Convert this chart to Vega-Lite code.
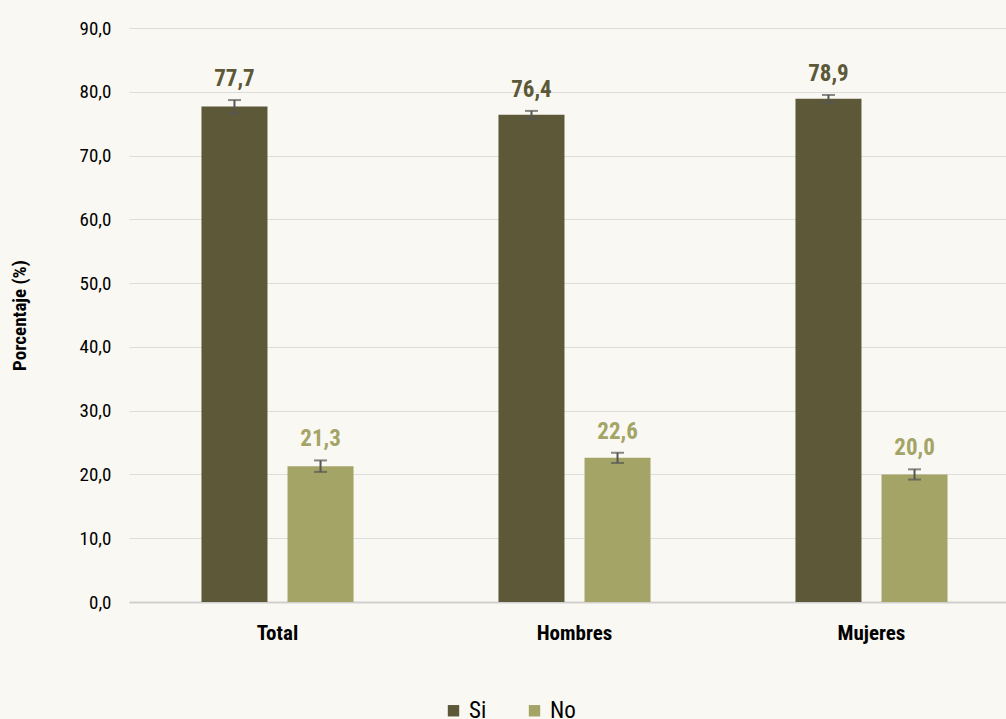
{
  "$schema": "https://vega.github.io/schema/vega-lite/v6.json",
  "autosize": "none",
  "width": 891,
  "height": 574,
  "padding": {"left": 129, "top": 28, "right": 0, "bottom": 117},
  "background": "#faf8f3",
  "data": {"values": [
    {"grupo": "Total", "respuesta": "Si", "valor": 77.7, "lo": 76.6, "hi": 78.7},
    {"grupo": "Total", "respuesta": "No", "valor": 21.3, "lo": 20.4, "hi": 22.2},
    {"grupo": "Hombres", "respuesta": "Si", "valor": 76.4, "lo": 75.8, "hi": 77.0},
    {"grupo": "Hombres", "respuesta": "No", "valor": 22.6, "lo": 21.8, "hi": 23.4},
    {"grupo": "Mujeres", "respuesta": "Si", "valor": 78.9, "lo": 78.3, "hi": 79.5},
    {"grupo": "Mujeres", "respuesta": "No", "valor": 20.0, "lo": 19.2, "hi": 20.8}
  ]},
  "encoding": {
    "x": {"field": "grupo", "type": "nominal", "sort": ["Total", "Hombres", "Mujeres"],
      "scale": {"paddingInner": 0.488, "paddingOuter": 0.244},
      "axis": {"title": null, "labelAngle": 0, "labelFontWeight": "bold", "labelFontSize": 21, "labelColor": "#000000", "labelPadding": 20, "domainColor": "#d0d0d0", "domainWidth": 2, "ticks": false}},
    "xOffset": {"field": "respuesta", "type": "nominal", "sort": ["Si", "No"], "scale": {"paddingInner": 0.233, "paddingOuter": 0}}
  },
  "layer": [
    {
      "mark": {"type": "bar"},
      "encoding": {
        "y": {"field": "valor", "type": "quantitative",
          "scale": {"domain": [0, 90], "nice": false},
          "axis": {"title": "Porcentaje (%)", "titleFontSize": 19, "titleFontWeight": "bold", "titleColor": "#000000", "titlePadding": 50,
            "values": [0, 10, 20, 30, 40, 50, 60, 70, 80, 90], "format": ".1f",
            "labelFontSize": 19, "labelColor": "#000000", "labelPadding": 18, "domain": false, "ticks": false,
            "gridColor": "#dddddd", "gridWidth": 1}},
        "color": {"field": "respuesta", "type": "nominal", "sort": ["Si", "No"],
          "scale": {"domain": ["Si", "No"], "range": ["#5c5838", "#a3a466"]},
          "legend": {"title": null, "orient": "none", "legendX": 313, "legendY": 671, "direction": "horizontal", "symbolType": "square", "symbolSize": 130, "symbolStrokeWidth": 0, "symbolOpacity": 1,
            "labelFontSize": 23, "labelColor": "#000000", "columnPadding": 36, "labelOffset": 4}}
      }
    },
    {
      "mark": {"type": "rule", "color": "#555555", "strokeWidth": 2},
      "encoding": {"y": {"field": "lo", "type": "quantitative"}, "y2": {"field": "hi"}}
    },
    {
      "mark": {"type": "tick", "color": "#555555", "thickness": 2, "size": 13, "orient": "horizontal"},
      "encoding": {"y": {"field": "lo", "type": "quantitative"}}
    },
    {
      "mark": {"type": "tick", "color": "#555555", "thickness": 2, "size": 13, "orient": "horizontal"},
      "encoding": {"y": {"field": "hi", "type": "quantitative"}}
    },
    {
      "mark": {"type": "text", "baseline": "bottom", "dy": -9, "fontSize": 23, "fontWeight": "bold"},
      "encoding": {
        "y": {"field": "hi", "type": "quantitative"},
        "text": {"field": "valor", "type": "quantitative", "format": ".1f"},
        "color": {"field": "respuesta", "type": "nominal", "sort": ["Si", "No"], "legend": null}
      }
    }
  ],
  "config": {
    "font": "Liberation Sans Narrow, Roboto Condensed, DejaVu Sans Condensed, sans-serif",
    "view": {"stroke": null},
    "locale": {"number": {"decimal": ",", "thousands": ".", "grouping": [3], "currency": ["", " €"]}}
  }
}
